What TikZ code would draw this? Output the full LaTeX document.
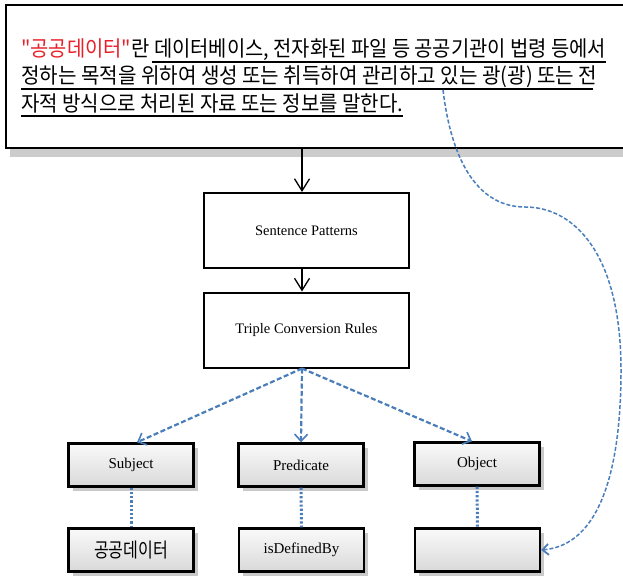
\documentclass[tikz,border=0pt]{standalone}
\usepackage{fontspec}
\setmainfont{Liberation Serif}
\newfontfamily\kr{Noto Sans CJK KR}
\usetikzlibrary{arrows.meta,shadows}
\definecolor{lnblue}{HTML}{4A7EBB}
\definecolor{krred}{HTML}{E8202A}
\begin{document}
\begin{tikzpicture}[x=1pt,y=-1pt,
  topbox/.style={draw, line width=2.4pt, fill=white, minimum width=630pt, minimum height=143pt,
    anchor=north west, inner sep=0pt,
    drop shadow={shadow xshift=4pt, shadow yshift=-9pt, fill=gray!50, opacity=.8}},
  txtline/.style={anchor=base west, inner sep=0pt},
  uline/.style={line width=1.8pt, black},
  midbox/.style={draw, line width=2pt, fill=white, minimum width=205pt, minimum height=75pt,
    font=\fontsize{14.5}{16}\selectfont},
  botbox/.style={draw, line width=2.4pt, top color=gray!4, bottom color=gray!30,
    minimum width=125pt, minimum height=43pt, inner sep=0pt,
    drop shadow={shadow xshift=4pt, shadow yshift=-4pt, fill=gray!60, opacity=.7},
    font=\fontsize{15}{16}\selectfont},
  blkarrow/.style={line width=1.3pt, -{Straight Barb[length=12pt,width=15pt,line width=1.3pt]}},
  bluearrow/.style={lnblue, line width=2.2pt, dash pattern=on 5pt off 2.5pt,
    -{Straight Barb[length=7pt,width=13pt,line width=1.6pt]}},
  bluedot/.style={lnblue, line width=3pt, dash pattern=on 2.2pt off 2pt},
  curvy/.style={lnblue, line width=1.5pt, dash pattern=on 4pt off 2pt,
    -{Straight Barb[length=6pt,width=11pt,line width=1.8pt]}}
]
\useasboundingbox (0,0) rectangle (623,578);
\clip (0,0) rectangle (623,578);

% top text box
\node[topbox] (top) at (5,4) {};
\node[txtline] (l1) at (21,57) {\resizebox{585pt}{\height}{\kr\fontsize{21.5}{21}\selectfont\textcolor{krred}{"공공데이터"}란 데이터베이스, 전자화된 파일 등 공공기관이 법령 등에서}};
\node[txtline] (l2) at (21,84) {\resizebox{576pt}{\height}{\kr\fontsize{21.5}{21}\selectfont 정하는 목적을 위하여 생성 또는 취득하여 관리하고 있는 광(광) 또는 전}};
\node[txtline] (l3) at (21,111) {\resizebox{382pt}{\height}{\kr\fontsize{21.5}{21}\selectfont 자적 방식으로 처리된 자료 또는 정보를 말한다.}};
\draw[uline] ([xshift=131pt,yshift=-5pt]l1.base west) -- ([yshift=-5pt]l1.base east);
\draw[uline] ([yshift=-5pt]l2.base west) -- ([xshift=-4pt,yshift=-5pt]l2.base east);
\draw[uline] ([yshift=-5pt]l3.base west) -- ([yshift=-5pt]l3.base east);

% middle boxes
\node[midbox] (sp) at (306.5,230.5) {Sentence Patterns};
\node[midbox] (tc) at (306.5,330) {Triple Conversion Rules};

% bottom boxes
\node[botbox] (subj) at (131,465) {Subject};
\node[botbox] (pred) at (301,465) {Predicate};
\node[botbox] (obj)  at (477,464) {Object};
\node[botbox] (ksub) at (131,550) {\resizebox{74pt}{\height}{\kr\fontsize{20}{20}\selectfont 공공데이터}};
\node[botbox] (kpred) at (301.5,550) {isDefinedBy};
\node[botbox] (kobj) at (477.5,550) {};

% black arrows
\coordinate (sptop) at ([xshift=-4.5pt]sp.north);
\coordinate (tctop) at ([xshift=-4.5pt]tc.north);
\coordinate (tcbot) at ([xshift=-4.5pt]tc.south);
\draw[blkarrow] (sptop |- top.south) -- (sptop);
\draw[blkarrow] (sptop |- sp.south) -- (tctop);

% blue dashed arrows
\draw[bluearrow] (tcbot) -- ([xshift=6pt]subj.north);
\draw[bluearrow] (tcbot) -- (pred.north);
\draw[bluearrow] (tcbot) -- ([xshift=-5pt]obj.north);

% dotted links
\draw[bluedot] (subj) -- (ksub);
\draw[bluedot] (pred) -- (kpred);
\draw[bluedot] (obj) -- (kobj);

% curved link
\coordinate (cs) at (443,90);
\draw[curvy] (cs) .. controls (452,165) and (480,207) .. (525,207)
  .. controls (575,207) and (621,255) .. (621,370)
  .. controls (621,470) and (600,545) .. (kobj.east);
\end{tikzpicture}
\end{document}
